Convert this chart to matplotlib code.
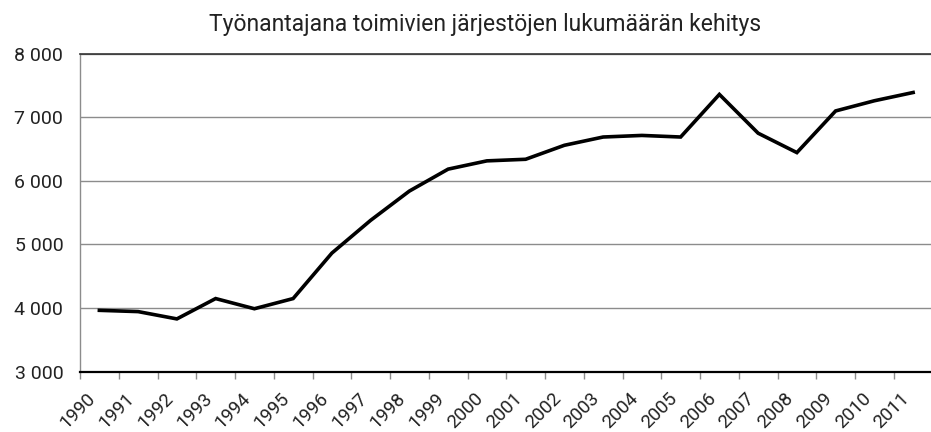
import matplotlib
matplotlib.use("Agg")
from matplotlib import pyplot as plt
from matplotlib.transforms import ScaledTranslation

years = [str(y) for y in range(1990, 2012)]
counts = [3965, 3945, 3830, 4150, 3990, 4150, 4865, 5380, 5840, 6185, 6315,
          6340, 6560, 6690, 6715, 6690, 7360, 6750, 6445, 7100, 7260, 7390]
yticks = [3000, 4000, 5000, 6000, 7000, 8000]

plt.rcParams['font.family'] = ['Roboto', 'DejaVu Sans']
txt = '#222222'

fig = plt.figure(figsize=(9.31, 4.32), dpi=100)
ax = fig.add_axes([80 / 931, 60.3 / 432, 852.5 / 931, 318 / 432])

x = list(range(len(years)))
ax.plot(x, counts, color='black', lw=2.6, solid_joinstyle='miter')

ax.set_xlim(-0.5, len(years) - 0.5)
ax.set_ylim(3000, 8000)
ax.set_yticks(yticks)
ax.set_yticklabels([f"{v:,}".replace(",", " ") for v in yticks],
                   fontsize=14, color=txt)
ax.yaxis.grid(True, color='#8c8c8c', lw=1)
ax.set_axisbelow(True)

ax.set_xticks(x)
ax.set_xticklabels(years, rotation=45, ha='right', va='top', fontsize=13.5,
                   color=txt)
# nudge the slanted year labels a little right, like the original
shift = ScaledTranslation(4 / 100, 0, fig.dpi_scale_trans)
for lbl in ax.get_xticklabels():
    lbl.set_transform(lbl.get_transform() + shift)
ax.set_xticks([i - 0.5 for i in range(len(years) + 1)], minor=True)
ax.tick_params(axis='x', which='major', length=0, pad=12.5)
ax.tick_params(axis='x', which='minor', length=5, color='#8c8c8c', width=1)
ax.tick_params(axis='y', length=0, pad=12)

ax.spines['right'].set_visible(False)
ax.spines['left'].set_color('#8c8c8c')
ax.spines['left'].set_linewidth(1)
ax.spines['top'].set_color('#333333')
ax.spines['top'].set_linewidth(1.2)
ax.spines['bottom'].set_color('black')
ax.spines['bottom'].set_linewidth(1.6)

fig.text(485 / 931, 1 - 24 / 432, "Työnantajana toimivien järjestöjen lukumäärän kehitys",
         ha='center', va='center', fontsize=16.5, color=txt)

fig.savefig("out.png", dpi=100)
